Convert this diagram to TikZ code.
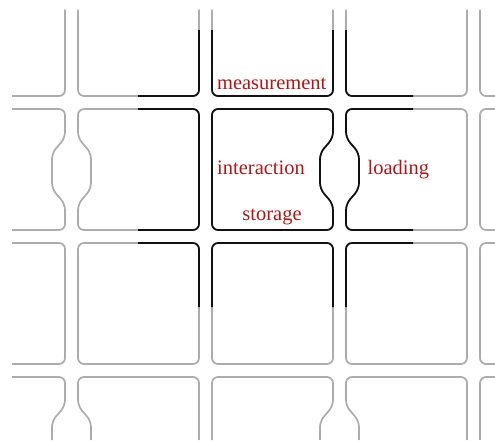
\documentclass[tikz,border=0pt]{standalone}
\usepackage{fontspec}
\setmainfont{Liberation Serif}
\definecolor{wallgray}{RGB}{172,172,172}
\definecolor{wallblack}{RGB}{17,17,17}
\definecolor{labelred}{RGB}{178,20,22}
\newcommand{\mkcell}[4]{%
  \pgfmathsetmacro\cR{#1+121}%
  \pgfmathsetmacro\cB{#2+121}%
  \pgfmathsetmacro\cM{#2+62}%
  \pgfmathsetmacro\cMid{#1+60.5}%
  \pgfmathsetmacro\lbp{13*(#3)}%
  \pgfmathsetmacro\rbp{13*(#4)}%
  \draw (\cMid,#2) -- (\cR,#2) -- (\cR,\cM-33) -- (\cR-\rbp,\cM-18)
    -- (\cR-\rbp,\cM+18) -- (\cR,\cM+33) -- (\cR,\cB) -- (#1,\cB)
    -- (#1,\cM+33) -- (#1+\lbp,\cM+18) -- (#1+\lbp,\cM-18)
    -- (#1,\cM-33) -- (#1,#2) -- cycle;%
}
\newcommand{\allcells}{%
  \foreach \L/\lb/\rb in {-56/0/1, 78/1/0, 212/0/1, 346/1/0, 480/0/0}{%
    \foreach \T/\bp in {-25/0, 109/1, 243/0, 377/1}{%
      \mkcell{\L}{\T}{\lb*\bp}{\rb*\bp}%
    }%
  }%
}
\tikzset{
  wall/.style={line width=1.7pt, rounded corners=6pt},
  lbl/.style={text=labelred, font=\fontsize{20.5}{24}\selectfont, anchor=base, inner sep=0pt}
}
\begin{document}
\begin{tikzpicture}[x=1pt, y=-1pt]
\useasboundingbox (0,0) rectangle (495,440);
\begin{scope}[wall, color=wallgray]
  \clip (12,9.5) rectangle (495,440);
  \allcells
\end{scope}
\begin{scope}[wall, color=wallblack]
  \clip (138,30) rectangle (413,307);
  \allcells
\end{scope}
\node[lbl] (meas) at (271.7,89) {measurement};
\node[lbl] (inter) at (261,174) {interaction};
\node[lbl] (stor) at (272,220) {storage};
\node[lbl] (load) at (398.4,174) {loading};
\end{tikzpicture}
\end{document}
